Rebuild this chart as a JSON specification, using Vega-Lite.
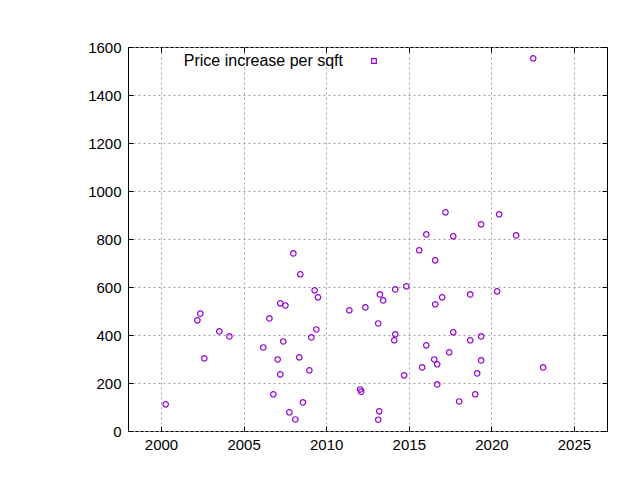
{
  "$schema": "https://vega.github.io/schema/vega-lite/v6.json",
  "width": 479,
  "height": 384,
  "autosize": {"type": "none"},
  "padding": {"left": 128, "top": 47, "right": 33, "bottom": 49},
  "background": "white",
  "config": {
    "view": {"stroke": "black", "strokeWidth": 1},
    "font": "Liberation Sans",
    "axis": {
      "labelFont": "Liberation Sans",
      "labelFontSize": 15,
      "labelColor": "black",
      "domain": false,
      "tickColor": "black",
      "tickSize": -5,
      "tickWidth": 1,
      "gridColor": "#a0a0a0",
      "gridDash": [2, 3],
      "gridWidth": 1,
      "gridOpacity": 1,
      "title": null
    }
  },
  "data": {"values": [
    {"year": 2000.28, "price_increase": 111},
    {"year": 2002.38, "price_increase": 489},
    {"year": 2002.20, "price_increase": 461},
    {"year": 2003.53, "price_increase": 415},
    {"year": 2004.14, "price_increase": 394},
    {"year": 2002.62, "price_increase": 303},
    {"year": 2008.01, "price_increase": 740},
    {"year": 2008.43, "price_increase": 653},
    {"year": 2009.30, "price_increase": 586},
    {"year": 2009.50, "price_increase": 557},
    {"year": 2007.22, "price_increase": 532},
    {"year": 2007.53, "price_increase": 523},
    {"year": 2006.56, "price_increase": 469},
    {"year": 2009.40, "price_increase": 423},
    {"year": 2009.10, "price_increase": 390},
    {"year": 2006.19, "price_increase": 348},
    {"year": 2007.40, "price_increase": 373},
    {"year": 2007.06, "price_increase": 298},
    {"year": 2008.37, "price_increase": 307},
    {"year": 2007.22, "price_increase": 236},
    {"year": 2008.98, "price_increase": 253},
    {"year": 2006.80, "price_increase": 153},
    {"year": 2008.59, "price_increase": 119},
    {"year": 2007.77, "price_increase": 78},
    {"year": 2008.13, "price_increase": 48},
    {"year": 2011.40, "price_increase": 503},
    {"year": 2012.37, "price_increase": 515},
    {"year": 2013.25, "price_increase": 569},
    {"year": 2013.45, "price_increase": 544},
    {"year": 2014.18, "price_increase": 590},
    {"year": 2014.85, "price_increase": 603},
    {"year": 2013.15, "price_increase": 448},
    {"year": 2014.18, "price_increase": 403},
    {"year": 2014.12, "price_increase": 378},
    {"year": 2014.72, "price_increase": 232},
    {"year": 2012.06, "price_increase": 173},
    {"year": 2012.12, "price_increase": 164},
    {"year": 2013.21, "price_increase": 82},
    {"year": 2013.15, "price_increase": 47},
    {"year": 2016.06, "price_increase": 819},
    {"year": 2017.69, "price_increase": 811},
    {"year": 2015.63, "price_increase": 753},
    {"year": 2016.60, "price_increase": 711},
    {"year": 2016.60, "price_increase": 528},
    {"year": 2017.02, "price_increase": 557},
    {"year": 2017.69, "price_increase": 411},
    {"year": 2016.06, "price_increase": 357},
    {"year": 2017.45, "price_increase": 328},
    {"year": 2016.54, "price_increase": 298},
    {"year": 2016.72, "price_increase": 278},
    {"year": 2015.81, "price_increase": 265},
    {"year": 2016.72, "price_increase": 194},
    {"year": 2018.05, "price_increase": 123},
    {"year": 2017.22, "price_increase": 911},
    {"year": 2020.47, "price_increase": 903},
    {"year": 2019.38, "price_increase": 861},
    {"year": 2021.50, "price_increase": 815},
    {"year": 2020.35, "price_increase": 582},
    {"year": 2018.72, "price_increase": 569},
    {"year": 2019.38, "price_increase": 394},
    {"year": 2018.72, "price_increase": 378},
    {"year": 2019.38, "price_increase": 294},
    {"year": 2019.14, "price_increase": 240},
    {"year": 2023.13, "price_increase": 265},
    {"year": 2019.02, "price_increase": 153},
    {"year": 2022.53, "price_increase": 1553}
  ]},
  "resolve": {"axis": {"x": "independent", "y": "independent"}},
  "layer": [
    {
      "mark": {"type": "point", "shape": "circle", "filled": false, "size": 30, "strokeWidth": 1.2, "opacity": 1},
      "encoding": {
        "x": {"field": "year", "type": "quantitative",
          "scale": {"domain": [1998, 2027], "nice": false, "zero": false},
          "axis": {"orient": "bottom", "values": [2000, 2005, 2010, 2015, 2020, 2025], "format": "d", "labelPadding": 11, "grid": true}},
        "y": {"field": "price_increase", "type": "quantitative",
          "scale": {"domain": [0, 1600], "nice": false},
          "axis": {"orient": "left", "values": [0, 200, 400, 600, 800, 1000, 1200, 1400, 1600], "format": "d", "labelPadding": 12, "grid": true}},
        "color": {"datum": "Price increase per sqft", "type": "nominal",
          "scale": {"range": ["#9400D3"]},
          "legend": {"orient": "none", "legendX": 238, "legendY": 6, "padding": 0,
            "title": null, "labelFont": "Liberation Sans", "labelFontSize": 16, "labelColor": "black",
            "labelAlign": "right", "labelOffset": -39, "symbolSize": 22, "symbolStrokeWidth": 1.2, "symbolType": "square", "symbolFillColor": "transparent", "labelLimit": 400}}
      }
    },
    {
      "mark": {"type": "point", "opacity": 0},
      "encoding": {
        "x": {"field": "year", "type": "quantitative",
          "axis": {"orient": "top", "values": [2000, 2005, 2010, 2015, 2020, 2025], "labels": false, "grid": false}},
        "y": {"field": "price_increase", "type": "quantitative",
          "axis": {"orient": "right", "values": [0, 200, 400, 600, 800, 1000, 1200, 1400, 1600], "labels": false, "grid": false}}
      }
    }
  ]
}
